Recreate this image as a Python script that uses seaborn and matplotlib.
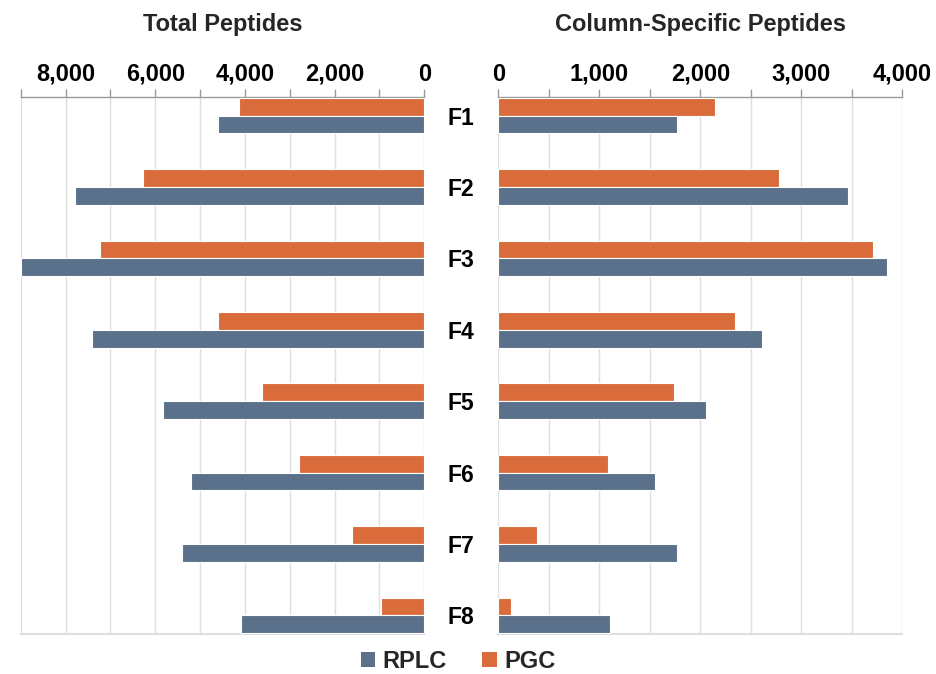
import matplotlib
matplotlib.use('Agg')
import pandas as pd
import seaborn as sns
import matplotlib.pyplot as plt
from matplotlib.patches import Patch
from matplotlib.ticker import MultipleLocator, FuncFormatter

# Data
fractions = ['F1', 'F2', 'F3', 'F4', 'F5', 'F6', 'F7', 'F8']
total_rplc = [4590, 7800, 8990, 7400, 5820, 5200, 5400, 4080]
total_pgc = [4130, 6270, 7240, 4610, 3610, 2800, 1610, 970]
specific_rplc = [1770, 3460, 3850, 2610, 2060, 1550, 1770, 1110]
specific_pgc = [2150, 2780, 3710, 2340, 1740, 1090, 380, 130]

colors = {'RPLC': '#5B708A', 'PGC': '#D96C3A'}

sns.set_theme(style="white")
plt.rcParams['font.family'] = ['Liberation Sans', 'DejaVu Sans']
plt.rcParams['font.weight'] = 'bold'


def to_long(rplc, pgc):
    df = pd.DataFrame({'fraction': fractions, 'RPLC': rplc, 'PGC': pgc})
    return df.melt(id_vars='fraction', var_name='column', value_name='peptides')


total_df = to_long(total_rplc, total_pgc)
specific_df = to_long(specific_rplc, specific_pgc)

fig = plt.figure(figsize=(9.36, 6.74), dpi=100)
bottom = 1 - 634 / 674
height = (634 - 97) / 674
ax_l = fig.add_axes([20.7 / 936, bottom, (424.3 - 20.7) / 936, height])
ax_r = fig.add_axes([498.3 / 936, bottom, (902.3 - 498.3) / 936, height])

comma = FuncFormatter(lambda v, p: f'{int(v):,}')

panels = [
    (ax_l, total_df, (9000, 0), 2000, 1000, 'Total Peptides'),
    (ax_r, specific_df, (0, 4000), 1000, 500, 'Column-Specific Peptides'),
]
for ax, df, xlim, major, minor, title in panels:
    sns.barplot(data=df, x='peptides', y='fraction', hue='column',
                hue_order=['PGC', 'RPLC'], palette=colors, order=fractions,
                width=0.5, saturation=1, edgecolor='white', linewidth=0.8,
                legend=False, ax=ax, zorder=3)
    ax.set_xlim(*xlim)
    ax.set_ylim(7.26, -0.26)
    ax.set_xlabel('')
    ax.set_ylabel('')
    ax.xaxis.tick_top()
    ax.xaxis.set_major_locator(MultipleLocator(major))
    ax.xaxis.set_minor_locator(MultipleLocator(minor))
    ax.xaxis.set_major_formatter(comma)
    ax.tick_params(axis='x', which='both', top=True, bottom=False, direction='out',
                   length=6, width=1, color='#9a9a9a', pad=2,
                   labelsize=17, labelcolor='black')
    for lab in ax.get_xticklabels():
        lab.set_fontweight('bold')
    ax.grid(True, which='both', axis='x', color='#dedede', linewidth=1, zorder=0)
    ax.set_axisbelow(True)
    for side in ['left', 'right']:
        ax.spines[side].set_visible(False)
    ax.spines['top'].set_color('#9a9a9a')
    ax.spines['top'].set_linewidth(1)
    ax.spines['bottom'].set_color('#dedede')
    ax.spines['bottom'].set_linewidth(1.5)
    ax.text(0.5, 1 + 73 / 537, title, transform=ax.transAxes, ha='center',
            va='center', fontsize=17, fontweight='bold')

ax_l.set_yticklabels([])
ax_l.tick_params(axis='y', length=0)
ax_r.tick_params(axis='y', length=0, pad=27, labelsize=16.5, labelcolor='black')
for lab in ax_r.get_yticklabels():
    lab.set_ha('center')
    lab.set_fontweight('bold')

handles = [Patch(facecolor=colors['RPLC'], edgecolor='none', label='RPLC'),
           Patch(facecolor=colors['PGC'], edgecolor='none', label='PGC')]
fig.legend(handles=handles, loc='center', bbox_to_anchor=(458 / 936, 1 - 661 / 674),
           ncol=2, frameon=False, handlelength=0.62, handleheight=0.62,
           handletextpad=0.3, columnspacing=1.5,
           prop={'size': 17, 'weight': 'bold'})

fig.savefig('out.png', dpi=100)
